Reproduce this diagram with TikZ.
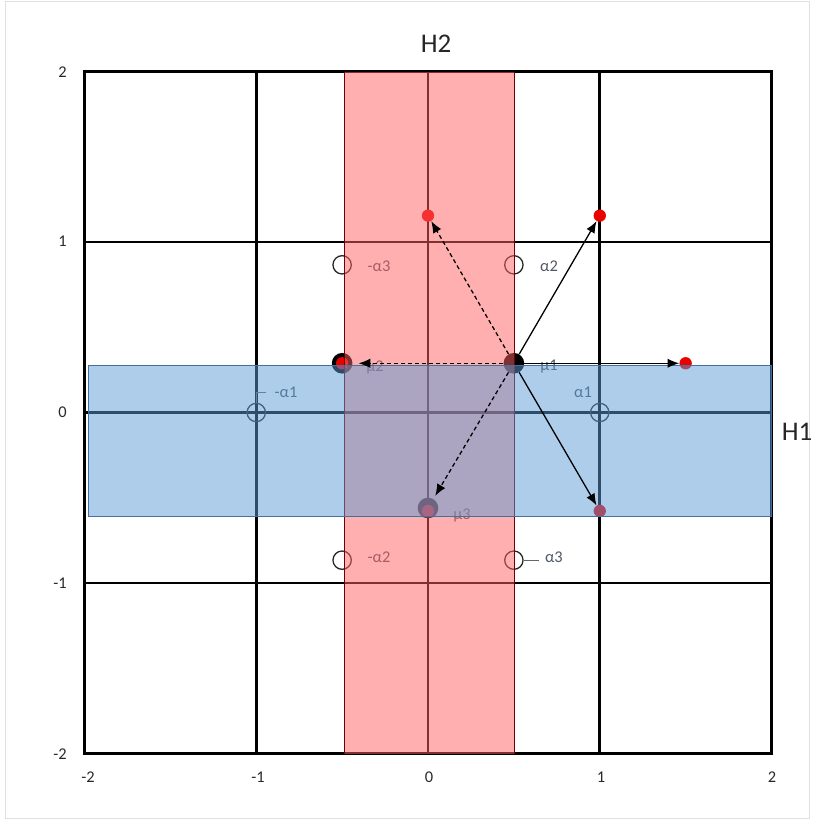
\documentclass[tikz,border=0pt]{standalone}
\usepackage{fontspec}
\setmainfont{Carlito}
\usetikzlibrary{arrows.meta}
\definecolor{lbl}{RGB}{78,88,104}
\definecolor{tick}{RGB}{40,40,40}
\definecolor{bandred}{RGB}{255,96,96}
\definecolor{bandrededge}{RGB}{110,0,0}
\definecolor{bandblue}{RGB}{91,155,213}
\definecolor{bandblueedge}{RGB}{65,113,156}
\definecolor{ptred}{RGB}{235,0,0}
\tikzset{
  gridline/.style={line width=2.5pt, black},
  hollow/.style={circle, draw=black!85, line width=1.1pt, minimum size=0.55cm, inner sep=0pt},
  mudot/.style={circle, fill=black, minimum size=0.62cm, inner sep=0pt},
  reddot/.style={circle, fill=ptred, minimum size=0.37cm, inner sep=0pt},
  ptlabel/.style={text=lbl, font=\fontsize{14}{16}\selectfont, inner sep=0pt},
  ticklabel/.style={text=tick, font=\fontsize{14}{16}\selectfont, inner sep=0pt},
  axtitle/.style={text=black!85, font=\fontsize{23}{27}\selectfont, inner sep=0pt},
  leader/.style={draw=black!60, line width=0.6pt},
  arr/.style={-{Latex[length=10pt,width=8pt]}, line width=1.1pt, black},
  darr/.style={arr, dash pattern=on 3.5pt off 2.5pt},
}
\begin{document}
\begin{tikzpicture}[x=0.03cm, y=-0.03cm]
\useasboundingbox (0,0) rectangle (814,821);
\draw[black!12, line width=0.6pt] (5,1) rectangle (809,818);

% titles and ticks
\node[axtitle] (h2) at (436,44) {H2};
\node[axtitle] (h1) at (797,432) {H1};
\node[ticklabel, anchor=east] (ty2) at (67,72) {2};
\node[ticklabel, anchor=east] (ty1) at (67,241) {1};
\node[ticklabel, anchor=east] (ty0) at (67,412) {0};
\node[ticklabel, anchor=east] (tym1) at (67,583) {-1};
\node[ticklabel, anchor=east] (tym2) at (67,754) {-2};
\node[ticklabel] (tx1) at (88,777) {-2};
\node[ticklabel] (tx2) at (258,777) {-1};
\node[ticklabel] (tx3) at (429,777) {0};
\node[ticklabel] (tx4) at (601,777) {1};
\node[ticklabel] (tx5) at (772,777) {2};

\begin{scope}[shift={(428,412.5)}, x=5.1525cm, y=5.115cm]
  % grid
  \draw[gridline] (-2,-2) rectangle (2,2);
  \foreach \v in {-1,0,1} {
    \draw[gridline] (\v,-2) -- (\v,2);
    \draw[gridline] (-2,\v) -- (2,\v);
  }
  % roots
  \node[hollow] (a1) at (1,0) {};
  \node[hollow] (na1) at (-1,0) {};
  \node[hollow] (a2) at (0.5,0.866) {};
  \node[hollow] (na3) at (-0.5,0.866) {};
  \node[hollow] (na2) at (-0.5,-0.866) {};
  \node[hollow] (a3) at (0.5,-0.866) {};
  % red points
  \node[reddot] (r1) at (0,1.1547) {};
  \node[reddot] (r2) at (1,1.1547) {};
  \node[reddot] (r3) at (1.5,0.2887) {};
  \node[reddot] (r4) at (1,-0.5774) {};
  % mu points
  \node[mudot] (m1) at (0.5,0.2887) {};
  \node[mudot] (m2) at (-0.5,0.2887) {};
  \node[reddot] (r5) at (-0.5,0.2887) {};
  \node[mudot] (m3) at (0,-0.5600) {};
  \node[reddot] (r6) at (0,-0.5774) {};
\end{scope}

% leaders
\draw[leader] (na1.north) -- ++(0,-10) -- ++(10,0);
\draw[leader] (a3.east) -- ++(15,0);

% labels
\node[ptlabel] (lm1) at (549,367) {μ1};
\node[ptlabel] (lm2) at (375,367) {μ2};
\node[ptlabel] (lm3) at (462,515) {μ3};
\node[ptlabel] (la1) at (583,392) {α1};
\node[ptlabel] (lna1) at (286,392) {-α1};
\node[ptlabel] (la2) at (549,266) {α2};
\node[ptlabel] (lna3) at (379,266) {-α3};
\node[ptlabel] (lna2) at (379,557) {-α2};
\node[ptlabel] (la3) at (554,557) {α3};

% bands
\fill[bandred, fill opacity=0.5] (344,72) rectangle (514,754);
\draw[bandrededge, line width=0.7pt] (344,72) -- (344,754) (514,72) -- (514,754);
\fill[bandblue, fill opacity=0.5] (88,365) rectangle (771,516);
\draw[bandblueedge, line width=0.6pt] (88,365) rectangle (771,516);

% arrows
\draw[arr] (m1) -- (r2);
\draw[arr] (m1) -- (r3);
\draw[arr] (m1) -- (r4);
\draw[darr] (m1) -- (r1);
\draw[darr, shorten >=5pt] (m1) -- (m2);
\draw[darr, shorten >=3pt] (m1) -- (m3);
\end{tikzpicture}
\end{document}
